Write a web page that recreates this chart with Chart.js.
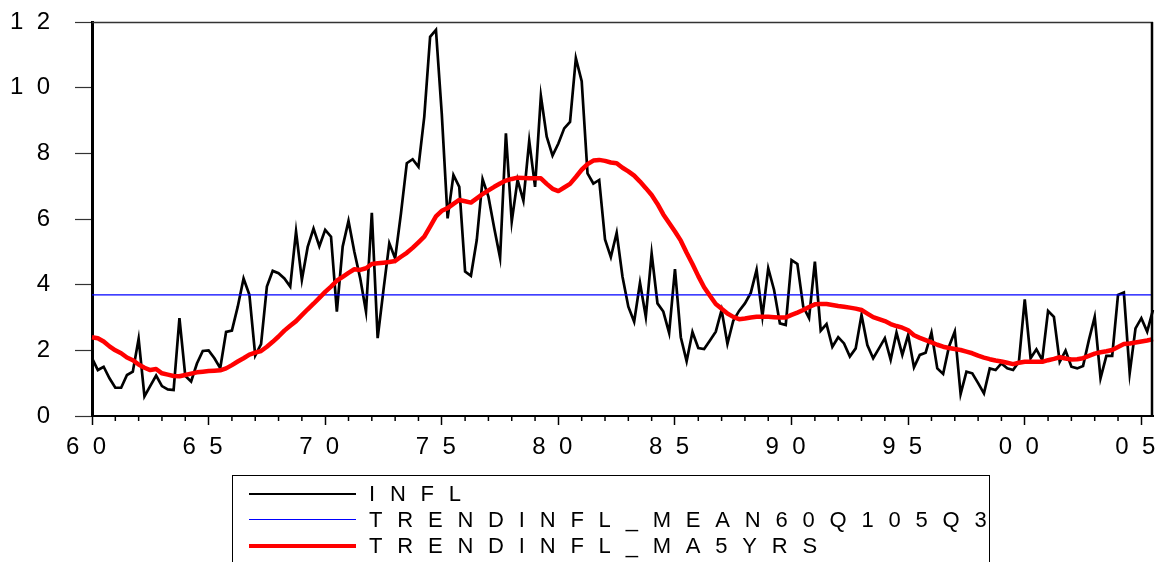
<!DOCTYPE html>
<html>
<head>
<meta charset="utf-8">
<script src="https://cdn.jsdelivr.net/npm/chart.js@4.4.1/dist/chart.umd.min.js"></script>
<style>
  body { margin: 0; background: #fff; }
  #wrap { position: relative; width: 1155px; height: 562px; overflow: hidden; }
  #legend {
    position: absolute; left: 232px; top: 475px; width: 758px; height: 110px;
    border: 1px solid #000; box-sizing: border-box;
    font-family: 'Liberation Sans', Arial, sans-serif;
    font-size: 22px; letter-spacing: 14.8px; color: #000;
  }
  #legend .row { position: absolute; left: 0; height: 26px; width: 100%; }
  #legend .swatch { position: absolute; left: 16px; width: 107px; top: 13px; }
  #legend .txt { position: absolute; left: 136px; top: 0; line-height: 26px; white-space: nowrap; }
</style>
</head>
<body>
<div id="wrap">
  <canvas id="myChart" width="1155" height="562"></canvas>
  <div id="legend"></div>
</div>
<script>
// quarterly inflation, 1960Q1 .. 2005Q3
var infl = [
  1.76,1.40,1.50,1.15,0.86,0.86,1.25,1.35,2.35,0.60,
  0.92,1.23,0.91,0.81,0.79,2.98,1.22,1.05,1.60,1.98,
  2.00,1.76,1.46,2.56,2.60,3.33,4.19,3.69,1.84,2.19,
  3.94,4.42,4.35,4.19,3.94,5.62,4.15,5.15,5.71,5.17,
  5.67,5.46,3.18,5.16,5.94,5.00,4.20,3.18,6.19,2.37,
  3.84,5.26,4.80,6.17,7.70,7.82,7.59,9.12,11.55,11.76,
  9.20,6.02,7.34,6.98,4.40,4.27,5.36,7.21,6.68,5.72,
  4.82,8.61,5.92,7.19,6.56,8.38,6.98,9.75,8.51,7.93,
  8.30,8.76,8.96,10.90,10.20,7.39,7.08,7.19,5.38,4.84,
  5.58,4.24,3.33,2.87,4.06,3.02,4.95,3.43,3.18,2.53,
  4.47,2.40,1.67,2.56,2.07,2.04,2.30,2.57,3.23,2.20,
  2.90,3.20,3.43,3.75,4.45,3.03,4.50,3.84,2.82,2.77,
  4.75,4.63,3.33,2.98,4.70,2.60,2.80,2.11,2.40,2.21,
  1.81,2.06,3.08,2.16,1.76,2.06,2.37,1.71,2.54,1.86,
  2.47,1.48,1.86,1.93,2.54,1.45,1.28,2.11,2.57,0.67,
  1.35,1.30,1.00,0.69,1.45,1.40,1.60,1.45,1.40,1.65,
  3.55,1.76,2.03,1.71,3.20,3.02,1.65,1.99,1.50,1.45,
  1.52,2.31,3.02,1.15,1.83,1.83,3.69,3.76,1.30,2.67,
  2.98,2.57,3.23
];

// 5 year moving average trend
var ma5 = [
  2.40,2.37,2.27,2.12,2.00,1.91,1.78,1.70,1.57,1.47,
  1.40,1.43,1.30,1.26,1.22,1.21,1.25,1.29,1.33,1.35,
  1.37,1.38,1.39,1.45,1.55,1.66,1.76,1.87,1.93,1.98,
  2.11,2.26,2.42,2.60,2.75,2.89,3.07,3.25,3.42,3.60,
  3.78,3.94,4.12,4.24,4.36,4.47,4.45,4.50,4.63,4.65,
  4.67,4.69,4.72,4.85,4.97,5.12,5.29,5.46,5.77,6.08,
  6.25,6.33,6.46,6.58,6.54,6.50,6.63,6.76,6.87,6.98,
  7.08,7.17,7.22,7.26,7.25,7.24,7.24,7.24,7.07,6.92,
  6.85,6.96,7.07,7.28,7.50,7.67,7.78,7.80,7.77,7.72,
  7.70,7.56,7.45,7.32,7.14,6.94,6.73,6.46,6.14,5.88,
  5.62,5.34,4.97,4.63,4.26,3.92,3.66,3.41,3.27,3.12,
  3.02,2.95,2.97,3.00,3.02,3.02,3.02,3.01,3.00,3.00,
  3.08,3.15,3.23,3.32,3.40,3.41,3.41,3.38,3.35,3.33,
  3.30,3.27,3.23,3.12,3.01,2.95,2.89,2.80,2.74,2.69,
  2.61,2.46,2.38,2.31,2.24,2.17,2.11,2.07,2.04,2.01,
  1.96,1.91,1.84,1.78,1.73,1.69,1.66,1.62,1.58,1.62,
  1.65,1.65,1.65,1.65,1.70,1.74,1.79,1.75,1.72,1.73,
  1.76,1.83,1.90,1.94,1.97,2.01,2.10,2.19,2.21,2.24,
  2.27,2.30,2.34
];

// full sample mean
var meanLevel = 3.69;

var xTickLabels = ['60','65','70','75','80','85','90','95','00','05'];
var yTickLabels = ['0','2','4','6','8','10','12'];

var quarters = [];
for (var yr = 1960; yr <= 2005; yr++) {
  for (var q = 1; q <= 4; q++) {
    if (quarters.length < infl.length) quarters.push(yr + 'Q' + q);
  }
}
var meanLine = quarters.map(function(){ return meanLevel; });

function spaced(s) { return s.split('').join('  '); }

var tickFont = { family: "'Liberation Sans', Arial", size: 24 };

// box around plot + minor (yearly) ticks
var framePlugin = {
  id: 'frame',
  afterDraw: function(chart) {
    var c = chart.ctx, a = chart.chartArea, xs = chart.scales.x;
    c.save();
    c.strokeStyle = '#333'; c.lineWidth = 1.5;
    c.beginPath(); c.moveTo(a.left, a.top + 0.5); c.lineTo(a.right, a.top + 0.5); c.stroke();
    c.strokeStyle = '#000'; c.lineWidth = 2.5;
    c.beginPath(); c.moveTo(a.right - 1, a.top); c.lineTo(a.right - 1, a.bottom); c.stroke();
    c.lineWidth = 1.5;
    for (var i = 0; i < quarters.length; i += 4) {
      if (i % 20 === 0) continue;
      var px = xs.getPixelForValue(i);
      c.beginPath(); c.moveTo(px, a.bottom); c.lineTo(px, a.bottom + 5); c.stroke();
    }
    c.restore();
  }
};

// html legend so the wide letter spacing can be kept
var legendPlugin = {
  id: 'htmlLegend',
  afterUpdate: function(chart) {
    var box = document.getElementById('legend');
    box.innerHTML = '';
    chart.data.datasets.forEach(function(ds, i) {
      var row = document.createElement('div');
      row.className = 'row';
      row.style.top = (5 + i * 26) + 'px';
      var sw = document.createElement('div');
      sw.className = 'swatch';
      var w = i === 1 ? 1.6 : ds.borderWidth;
      sw.style.borderTop = w + 'px solid ' + ds.borderColor;
      sw.style.marginTop = (-w / 2) + 'px';
      var t = document.createElement('span');
      t.className = 'txt';
      t.textContent = ds.label;
      row.appendChild(sw); row.appendChild(t);
      box.appendChild(row);
    });
  }
};

var ctx = document.getElementById('myChart').getContext('2d');
var myChart = new Chart(ctx, {
  type: 'line',
  data: {
    labels: quarters,
    datasets: [{
      label: 'INFL',
      data: infl,
      borderColor: '#000000',
      borderWidth: 2.7,
      pointRadius: 0,
      tension: 0,
      order: 2
    }, {
      label: 'TRENDINFL_MEAN60Q105Q3',
      data: meanLine,
      borderColor: '#0000ff',
      borderWidth: 1.4,
      pointRadius: 0,
      order: 1
    }, {
      label: 'TRENDINFL_MA5YRS',
      data: ma5,
      borderColor: '#ff0000',
      borderWidth: 4.5,
      pointRadius: 0,
      borderJoinStyle: 'round',
      order: 0
    }]
  },
  options: {
    responsive: false,
    animation: false,
    layout: { padding: { top: 22, right: 2, bottom: 106, left: 0 } },
    plugins: { legend: { display: false }, tooltip: { enabled: false } },
    scales: {
      x: {
        type: 'category',
        offset: false,
        border: { color: '#000', width: 2 },
        grid: {
          drawOnChartArea: false,
          tickLength: 9,
          tickWidth: 1.5,
          tickColor: function(c) { return c.index % 20 === 0 ? '#000' : 'rgba(0,0,0,0)'; }
        },
        ticks: {
          autoSkip: false, maxRotation: 0, minRotation: 0,
          padding: 8, labelOffset: -6, color: '#000', font: tickFont,
          callback: function(v, i) { return i % 20 === 0 ? spaced(xTickLabels[i / 20]) : ''; }
        },
        afterFit: function(s) { s.height = 40; s.paddingLeft = 0; s.paddingRight = 0; }
      },
      y: {
        min: 0, max: 12,
        border: { color: '#000', width: 3 },
        grid: { drawOnChartArea: false, tickLength: 17, tickColor: '#333', tickWidth: 1.2 },
        ticks: {
          stepSize: 2, padding: 25, color: '#000', font: tickFont,
          callback: function(v) { return spaced(yTickLabels[v / 2]); }
        },
        afterFit: function(s) { s.width = 92; s.paddingTop = 0; s.paddingBottom = 0; }
      }
    }
  },
  plugins: [framePlugin, legendPlugin]
});
</script>
</body>
</html>
